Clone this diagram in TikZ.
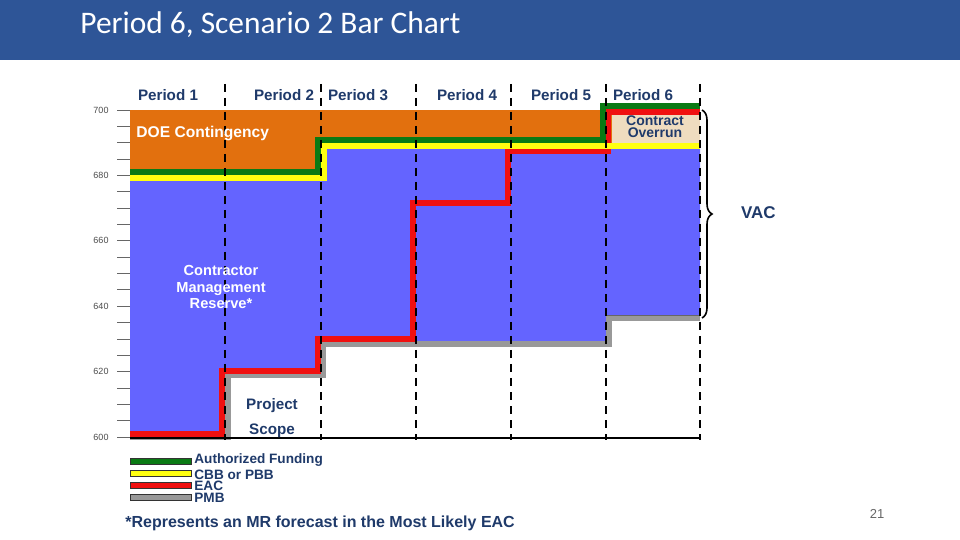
\documentclass[tikz,border=0pt]{standalone}
\usepackage{fontspec}
\setmainfont{Liberation Sans}
\newfontfamily\titlefont{Carlito}
\usetikzlibrary{decorations.pathreplacing}
\definecolor{barblue}{HTML}{6464FF}
\definecolor{doeorange}{HTML}{E2700E}
\definecolor{fundgreen}{HTML}{0A7A14}
\definecolor{cbbyellow}{HTML}{FFFF10}
\definecolor{eacred}{HTML}{F01010}
\definecolor{pmbgrey}{HTML}{999999}
\definecolor{tanfill}{HTML}{EFDCBF}
\definecolor{labblue}{HTML}{1F3A6A}
\definecolor{titlebar}{HTML}{2E5597}
\tikzset{
  stepline/.style={line width=3pt, line join=miter},
  perlab/.style={font=\bfseries\fontsize{7.6}{8}\selectfont, text=labblue, anchor=base, inner sep=0pt},
  ticklab/.style={font=\fontsize{4.5}{5}\selectfont, text=black!70, anchor=center},
  legbox/.style={draw=black!80, line width=0.4pt},
  legtext/.style={font=\bfseries\fontsize{6.8}{7}\selectfont, text=labblue, anchor=west, inner sep=0pt},
  divline/.style={dashed, dash pattern=on 4pt off 3pt, line width=1pt}
}
\begin{document}
\begin{tikzpicture}[x=0.5pt,y=-0.5pt]
\useasboundingbox (0,0) rectangle (960,540);
\fill[white] (0,0) rectangle (960,540);
% title bar
\fill[titlebar] (0,0) rectangle (960,60);
\node[anchor=west, inner sep=0pt, text=white, font=\titlefont\fontsize{15.7}{18}\selectfont] (title) at (80,25) {Period 6, Scenario 2 Bar Chart};
% orange
\fill[doeorange] (130,110) rectangle (700,182);
% tan
\fill[tanfill] (612,115) rectangle (700,143);
% blue
\fill[barblue] (130,181) -- (324,181) -- (324,148) -- (700,148) -- (700,316) -- (606,316) -- (606,341) -- (321,341) -- (321,372) -- (225,372) -- (225,434) -- (130,434) -- cycle;
% PMB grey
\draw[stepline, pmbgrey] (130,437) -- (228,437) -- (228,375) -- (323,375) -- (323,344) -- (609,344) -- (609,318) -- (700,318);
\draw[black!60, line width=0.4pt] (606,315) -- (700,315);
% EAC red
\draw[stepline, eacred] (130,434) -- (222,434) -- (222,371) -- (318,371) -- (318,339) -- (413,339) -- (413,203) -- (508,203) -- (508,151) -- (608,151) -- (608,112) -- (700,112);
% CBB yellow
\draw[stepline, cbbyellow] (130,178) -- (324,178) -- (324,146) -- (700,146);
% Authorized funding green
\draw[stepline, fundgreen] (130,172) -- (318,172) -- (318,140) -- (603,140) -- (603,106) -- (700,106);
% baseline
\draw[line width=1pt] (130,438) -- (700,438);
% dashed dividers
\foreach \x in {225,321,416,511,606,700}{
  \draw[divline] (\x,84) -- (\x,440);
}
% ticks
\foreach \i in {0,...,20}{
  \draw[black!60, line width=0.4pt] (117,110+16.35*\i) -- (130,110+16.35*\i);
}
\foreach \v [count=\k from 0] in {700,680,660,640,620,600}{
  \node[ticklab] (tick\v) at (101,110+65.4*\k) {\v};
}
% period labels
\node[perlab] (p1) at (168,101) {Period 1};
\node[perlab] (p2) at (284,101) {Period 2};
\node[perlab] (p3) at (358,101) {Period 3};
\node[perlab] (p4) at (467,101) {Period 4};
\node[perlab] (p5) at (561,101) {Period 5};
\node[perlab] (p6) at (643,101) {Period 6};
% area labels
\node[font=\bfseries\fontsize{7.8}{8}\selectfont, text=white, anchor=west, inner sep=0pt] (doe) at (136,134) {DOE Contingency};
\node[font=\bfseries\fontsize{7.3}{8.2}\selectfont, text=white, align=center] (cmr) at (221,287) {Contractor\\Management\\Reserve*};
\node[perlab] (proj) at (272,409) {Project};
\node[perlab] (scope) at (272,434) {Scope};
\node[font=\bfseries\fontsize{7}{6}\selectfont, text=labblue, align=center, inner sep=0pt] (co) at (655,127) {Contract\\Overrun};
% brace
\draw[decorate, decoration={brace, amplitude=5pt}, line width=0.8pt] (702,110) -- (702,318);
\node[font=\bfseries\fontsize{8.5}{10}\selectfont, text=labblue, anchor=west] (vac) at (734,213) {VAC};
% legend
\draw[legbox, fill=fundgreen] (130,458) rectangle (191,464);
\draw[legbox, fill=cbbyellow] (130,470) rectangle (191,476);
\draw[legbox, fill=eacred] (130,482) rectangle (191,488);
\draw[legbox, fill=pmbgrey] (130,494) rectangle (191,500);
\node[legtext] (l1) at (194,460) {Authorized Funding};
\node[legtext] (l2) at (194,475) {CBB or PBB};
\node[legtext] (l3) at (194,486) {EAC};
\node[legtext] (l4) at (194,498) {PMB};
\node[font=\bfseries\fontsize{8}{8}\selectfont, text=labblue, anchor=west, inner sep=0pt] (foot) at (125,523) {*Represents an MR forecast in the Most Likely EAC};
\node[font=\fontsize{6.5}{7}\selectfont, text=black!60] (pg) at (877,514) {21};
\end{tikzpicture}
\end{document}
